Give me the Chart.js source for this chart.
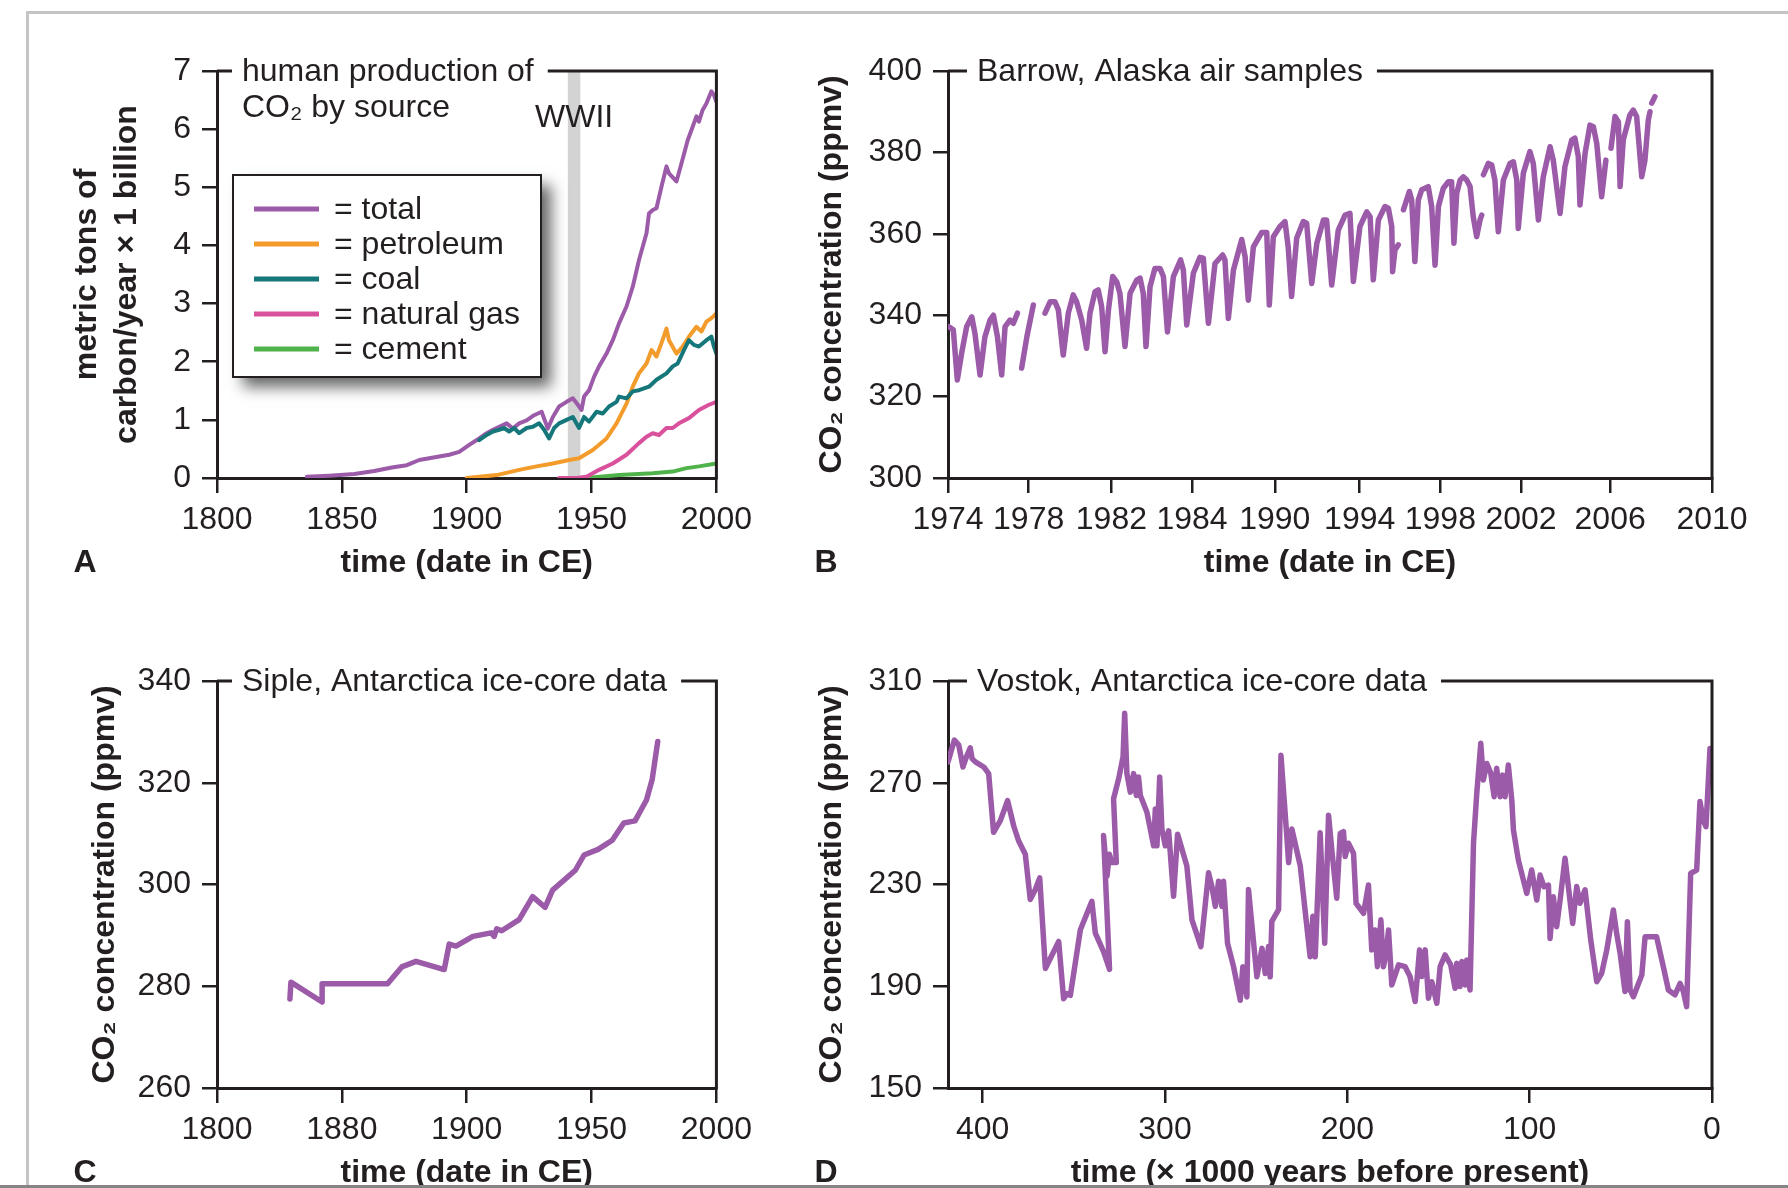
<!DOCTYPE html>
<html lang="en">
<head>
<meta charset="utf-8">
<title>CO2 records</title>
<script src="https://cdn.jsdelivr.net/npm/chart.js@4.4.1/dist/chart.umd.min.js"></script>
<style>
  html, body { margin: 0; padding: 0; background: #fff; }
  body { width: 1788px; height: 1188px; overflow: hidden; position: relative; }
  #frame { position: absolute; left: 26px; top: 11px; width: 1800px; height: 1300px;
           border-left: 3px solid #c4c4c4; border-top: 3px solid #c4c4c4; }
  #cut { position: absolute; left: 0; top: 1185px; width: 1788px; height: 3px; background: #858585; }
  canvas { position: absolute; }
</style>
</head>
<body>
<div id="frame"></div>
<canvas id="chartA" width="760" height="640" style="left:0;top:0"></canvas>
<canvas id="chartB" width="1048" height="640" style="left:740px;top:0"></canvas>
<canvas id="chartC" width="760" height="640" style="left:0;top:594px"></canvas>
<canvas id="chartD" width="1048" height="640" style="left:740px;top:594px"></canvas>
<div id="cut"></div>
<script>
// ---- A: human production of CO2 by source (billion tonnes C / yr)
const totalYears = [1836, 1845, 1855, 1863, 1870, 1876, 1881, 1885, 1889, 1893, 1897, 1901, 1905, 1908, 1910.5, 1913, 1916, 1918.5, 1921, 1924, 1927, 1930, 1932.5, 1934.5, 1937, 1940, 1942.5, 1944.5, 1946, 1947, 1949, 1951, 1953, 1956, 1958.5, 1961, 1964, 1966.5, 1969, 1972, 1973, 1974.5, 1976, 1978, 1980, 1981, 1984, 1986, 1988.5, 1990.5, 1992, 1993, 1994.5, 1996, 1998, 1999, 2000];
const totalValues = [0.02, 0.04, 0.07, 0.12, 0.18, 0.22, 0.31, 0.34, 0.37, 0.40, 0.45, 0.57, 0.68, 0.77, 0.83, 0.88, 0.94, 0.85, 0.94, 0.99, 1.08, 1.14, 0.85, 1.05, 1.23, 1.31, 1.37, 1.26, 1.17, 1.40, 1.51, 1.74, 1.92, 2.14, 2.37, 2.66, 2.95, 3.29, 3.75, 4.21, 4.55, 4.61, 4.64, 5.01, 5.36, 5.24, 5.10, 5.41, 5.81, 6.04, 6.22, 6.13, 6.33, 6.44, 6.65, 6.59, 6.47];
const petroleumYears = [1900, 1905, 1912, 1921, 1928, 1934.5, 1941, 1945, 1950.5, 1956, 1960, 1964, 1966.5, 1969, 1972, 1974, 1976, 1978, 1980, 1981, 1984, 1986.5, 1989, 1992, 1994, 1996, 1998, 2000];
const petroleumValues = [0, 0.02, 0.05, 0.14, 0.20, 0.25, 0.31, 0.34, 0.48, 0.68, 0.94, 1.28, 1.57, 1.80, 1.97, 2.20, 2.09, 2.32, 2.57, 2.37, 2.14, 2.26, 2.43, 2.60, 2.52, 2.69, 2.75, 2.83];
const coalYears = [1905, 1908, 1910.5, 1913, 1915, 1917, 1919, 1921, 1924, 1926.5, 1929, 1931, 1933, 1935, 1937, 1940, 1942.5, 1945, 1947, 1949, 1952, 1954.5, 1957, 1960, 1961, 1964, 1966.5, 1969, 1973, 1976, 1980, 1982.5, 1984.5, 1987, 1989, 1991, 1993, 1996, 1998, 1999, 2000];
const coalValues = [0.65, 0.74, 0.80, 0.83, 0.86, 0.80, 0.86, 0.77, 0.86, 0.88, 0.94, 0.83, 0.68, 0.86, 0.94, 1.00, 1.05, 0.86, 1.05, 0.97, 1.14, 1.11, 1.23, 1.31, 1.40, 1.37, 1.49, 1.51, 1.57, 1.69, 1.80, 1.92, 1.97, 2.20, 2.37, 2.29, 2.26, 2.37, 2.43, 2.26, 2.14];
const gasYears = [1937, 1944, 1948, 1953, 1958.5, 1964, 1969, 1972, 1974.5, 1977, 1980, 1982.5, 1985, 1989, 1993, 1997, 2000];
const gasValues = [0, 0, 0.02, 0.14, 0.25, 0.40, 0.60, 0.71, 0.77, 0.74, 0.86, 0.86, 0.94, 1.03, 1.17, 1.26, 1.31];
const cementYears = [1948, 1961, 1974.5, 1982.5, 1988, 1993, 2000];
const cementValues = [0, 0.05, 0.08, 0.11, 0.17, 0.20, 0.25];
const wwiiSpan = [1940.5, 1945.5];
const productionTicks = [1800, 1850, 1900, 1950, 2000];

// ---- B: Barrow, Alaska air samples (ppmv); null = break in the record
const barrowYears = [1974.02, 1974.25, 1974.44, 1974.64, 1974.88, 1975.12, 1975.27, 1975.51, 1975.74, 1975.98, 1976.14, 1976.33, 1976.53, 1976.69, 1976.92, 1977.08, 1977.27, 1977.37, 1977.47, 1977.72, 1978.02, 1978.3, 1978.57, 1978.81, 1979.04, 1979.2, 1979.43, 1979.67, 1979.9, 1980.06, 1980.3, 1980.53, 1980.69, 1980.93, 1981.08, 1981.24, 1981.4, 1981.56, 1981.76, 1981.95, 1982.1, 1982.34, 1982.58, 1982.89, 1983.05, 1983.2, 1983.33, 1983.52, 1983.75, 1983.99, 1984.15, 1984.34, 1984.62, 1984.96, 1985.09, 1985.25, 1985.56, 1985.87, 1986.03, 1986.27, 1986.58, 1986.94, 1987.05, 1987.21, 1987.45, 1987.84, 1988.0, 1988.15, 1988.39, 1988.78, 1989.02, 1989.14, 1989.33, 1989.64, 1989.88, 1990.03, 1990.19, 1990.43, 1990.74, 1990.9, 1991.14, 1991.38, 1991.69, 1991.84, 1992.08, 1992.39, 1992.71, 1992.94, 1993.1, 1993.41, 1993.73, 1993.89, 1994.04, 1994.28, 1994.59, 1994.75, 1994.91, 1994.95, 1995.06, 1995.22, 1995.34, 1995.46, 1995.74, 1995.85, 1996.0, 1996.16, 1996.32, 1996.48, 1996.63, 1996.79, 1996.95, 1997.11, 1997.34, 1997.58, 1997.73, 1997.84, 1997.97, 1998.13, 1998.28, 1998.44, 1998.6, 1998.75, 1998.91, 1999.07, 1999.15, 1999.19, 1999.23, 1999.46, 1999.62, 1999.77, 1999.93, 2000.17, 2000.48, 2000.64, 2000.8, 2000.87, 2001.11, 2001.42, 2001.58, 2001.82, 2002.05, 2002.37, 2002.52, 2002.84, 2003.07, 2003.39, 2003.54, 2003.7, 2003.78, 2004.02, 2004.25, 2004.41, 2004.57, 2004.8, 2005.0, 2005.12, 2005.24, 2005.43, 2005.59, 2005.67, 2005.82, 2006.13, 2006.29, 2006.45, 2006.69, 2006.84, 2007.0, 2007.08, 2007.12, 2007.16, 2007.31];
const barrowCO2 = [337.2, 336.4, 324.1, 330.6, 337.2, 339.6, 335.5, 325.3, 334.7, 338.8, 340.0, 334.7, 325.3, 337.2, 338.8, 338.0, 340.5, null, 327.0, 334.8, 342.5, null, 340.5, 343.3, 343.3, 341.3, 330.2, 340.5, 345.0, 343.3, 338.8, 331.9, 340.5, 345.8, 346.2, 342.1, 331.0, 341.3, 349.5, 348.2, 345.4, 332.3, 345.4, 348.6, 349.1, 345.4, 332.3, 347.0, 351.5, 351.5, 349.5, 335.9, 349.5, 353.6, 351.1, 337.6, 350.3, 354.2, 354.0, 338.0, 352.7, 354.8, 353.6, 339.2, 351.1, 358.6, 354.4, 343.7, 356.8, 360.3, 360.3, 342.5, 359.3, 361.8, 363.0, 356.8, 344.6, 358.9, 363.0, 362.6, 347.8, 357.7, 363.4, 363.4, 347.4, 360.9, 364.6, 365.0, 348.3, 361.8, 365.4, 364.2, 348.7, 363.4, 366.7, 366.3, 361.8, 350.7, 356.0, 357.3, null, 365.9, 370.4, 368.3, 353.2, 368.3, 370.8, 371.2, 371.6, 366.7, 352.3, 366.7, 371.2, 372.8, 372.8, 357.7, 369.9, 373.2, 374.0, 373.2, 371.6, 364.2, 359.3, 363.4, 364.6, null, 374.5, 377.3, 376.9, 373.2, 360.5, 373.2, 377.3, 377.7, 373.2, 361.3, 374.9, 380.2, 377.3, 363.4, 374.0, 381.4, 378.1, 365.0, 376.5, 383.0, 383.5, 379.0, 367.1, 379.8, 386.7, 386.3, 382.2, 369.1, 378.1, null, 381.0, 388.8, 387.5, 371.6, 383.1, 389.2, 390.4, 388.8, 374.0, 378.1, 388.0, 390.0, null, 392.1, 393.7];
const barrowTickPos = [1974, 1977.8, 1981.7, 1985.5, 1989.4, 1993.4, 1997.2, 2001.0, 2005.2, 2010];
const barrowTickLabels = ['1974', '1978', '1982', '1984', '1990', '1994', '1998', '2002', '2006', '2010'];

// ---- C: Siple, Antarctica ice-core data (ppmv)
const sipleYears = [1829.2, 1829.6, 1842.1, 1842.1, 1868.3, 1874.0, 1879.7, 1890.0, 1891.0, 1893.0, 1895.7, 1902.5, 1909.8, 1911.0, 1912.0, 1914.0, 1921.0, 1926.4, 1931.4, 1934.4, 1943.5, 1947.0, 1952.6, 1958.3, 1962.9, 1967.4, 1972.0, 1974.3, 1976.5];
const sipleCO2 = [277.5, 280.8, 276.9, 280.5, 280.5, 283.8, 284.9, 283.4, 283.3, 288.3, 287.9, 289.8, 290.5, 289.8, 291.3, 290.9, 293.1, 297.6, 295.5, 298.9, 302.8, 305.8, 306.9, 308.7, 312.1, 312.5, 316.6, 320.7, 328.1];
const sipleTickPos = [1800, 1850, 1900, 1950, 2000];
const sipleTickLabels = ['1800', '1880', '1900', '1950', '2000'];

// ---- D: Vostok, Antarctica ice-core data (ka before present, ppmv)
const vostokAge = [419, 415.5, 413.1, 410.8, 408.9, 406.8, 405.8, 404.0, 399.4, 396.7, 394.0, 390.3, 386.3, 383.0, 380.3, 376.6, 373.9, 371.1, 368.7, 365.6, 358.3, 355.6, 353.7, 351.9, 346.4, 340.1, 338.2, 333.7, 330.4, 333.7, 331.8, 330.5, 329.1, 326.7, 328.2, 325.4, 323.0, 322.1, 320.9, 319.0, 317.2, 315.7, 314.5, 313.5, 309.9, 306.2, 305.3, 304.4, 302.9, 301.7, 299.8, 298.0, 295.3, 293.1, 288.0, 285.2, 280.3, 276.1, 274.3, 272.4, 270.6, 268.8, 267.9, 265.7, 262.4, 258.7, 257.3, 255.1, 254.2, 249.6, 246.8, 245.0, 243.2, 242.3, 241.4, 237.7, 236.4, 233.2, 232.2, 230.4, 225.8, 220.4, 218.9, 217.6, 216.7, 214.9, 212.4, 210.3, 208.5, 205.8, 203.9, 202.1, 201.2, 199.4, 196.6, 195.2, 191.1, 188.4, 186.6, 184.8, 183.5, 181.6, 180.2, 178.7, 177.4, 175.6, 171.9, 168.3, 165.6, 162.8, 160.4, 159.2, 157.3, 155.5, 153.7, 150.9, 149.1, 146.4, 143.3, 140.9, 140.0, 138.2, 137.2, 135.4, 134.5, 132.7, 130.8, 129.0, 126.8, 125.4, 123.5, 121.3, 119.5, 118.1, 116.2, 114.8, 113.5, 111.7, 109.8, 108.9, 106.2, 101.6, 98.9, 96.1, 94.3, 92.1, 89.7, 88.8, 87.0, 85.2, 83.3, 80.6, 76.4, 74.2, 72.4, 69.6, 66.5, 63.2, 60.5, 57.7, 54.1, 52.3, 50.4, 47.7, 46.4, 44.9, 43.1, 38.5, 36.7, 30.4, 26.7, 23.9, 20.3, 17.5, 15.7, 13.9, 11.7, 8.4, 6.6, 4.8, 3.3, 1.1];
const vostokCO2 = [278.2, 286.8, 284.8, 276.2, 280.2, 283.7, 279.5, 278.2, 276.2, 273.6, 250.5, 255.1, 263.0, 253.1, 247.2, 241.9, 224.1, 228.0, 232.6, 197.0, 207.6, 185.1, 187.1, 186.4, 212.2, 223.4, 210.9, 203.6, 196.6, 249.3, 233.3, 241.9, 238.6, 238.6, 263.7, 271.6, 280.2, 297.3, 273.6, 266.3, 273.6, 265.0, 272.3, 265.0, 258.4, 245.2, 259.7, 245.2, 272.3, 251.8, 245.2, 251.1, 225.4, 249.8, 237.3, 216.1, 205.6, 234.6, 229.3, 221.4, 231.3, 221.4, 231.3, 206.9, 197.7, 184.5, 197.7, 185.8, 228.0, 193.7, 204.9, 195.0, 205.6, 193.7, 215.5, 220.1, 280.8, 249.1, 238.6, 251.8, 237.3, 201.6, 217.5, 201.6, 218.1, 250.3, 206.9, 257.2, 243.6, 224.6, 250.1, 250.8, 241.0, 246.2, 242.3, 222.6, 218.7, 229.8, 204.3, 212.1, 197.7, 216.1, 197.7, 202.9, 212.1, 190.5, 198.4, 197.7, 193.8, 184.0, 204.3, 193.8, 204.3, 185.3, 191.8, 183.3, 197.7, 202.3, 198.4, 189.2, 199.0, 189.9, 199.7, 190.5, 200.3, 188.5, 246.2, 265.9, 285.5, 271.1, 277.6, 273.7, 264.5, 275.7, 264.5, 273.0, 264.5, 277.0, 263.2, 251.4, 239.6, 226.5, 235.7, 223.9, 233.7, 229.1, 229.8, 208.8, 225.2, 213.4, 223.9, 240.3, 214.7, 229.2, 222.6, 227.9, 208.2, 191.8, 195.1, 204.3, 220.0, 210.8, 203.0, 187.9, 215.4, 188.5, 185.9, 194.4, 209.5, 209.5, 197.7, 188.5, 186.6, 191.1, 187.9, 182.0, 234.4, 235.7, 262.6, 255.4, 252.7, 283.5];
const vostokTickPos = [400, 300, 200, 100, 0];

const FONT = '"Liberation Sans", Arial, Helvetica, sans-serif';
const INK = '#231f20';
const PURPLE = '#9b5ba8';

Chart.defaults.font.family = FONT;
Chart.defaults.font.size = 32;
Chart.defaults.color = INK;

function pts(xs, ys) {
  return xs.map((x, i) => ({ x: x, y: ys[i] }));
}

function series(label, xs, ys, color, width, order) {
  return {
    label: label,
    data: pts(xs, ys),
    borderColor: color,
    backgroundColor: color,
    borderWidth: width,
    order: order,
    pointRadius: 0,
    tension: 0,
    spanGaps: false,
    borderJoinStyle: 'round',
    borderCapStyle: 'round'
  };
}

// frame, inset title, WWII band, legend box and panel letter
const panelDecor = {
  id: 'panelDecor',
  beforeDatasetsDraw(chart, args, o) {
    if (!o.band) return;
    const { ctx, chartArea: a, scales: { x } } = chart;
    const x0 = x.getPixelForValue(o.band[0]);
    const x1 = x.getPixelForValue(o.band[1]);
    ctx.save();
    ctx.fillStyle = '#d3d3d3';
    ctx.fillRect(x0, a.top, x1 - x0, a.bottom - a.top);
    ctx.restore();
  },
  afterDraw(chart, args, o) {
    const { ctx, chartArea: a, scales: { x } } = chart;
    ctx.save();
    ctx.strokeStyle = INK;
    ctx.lineWidth = 3;
    ctx.beginPath();
    ctx.moveTo(a.left, a.top);
    ctx.lineTo(a.right, a.top);
    ctx.lineTo(a.right, a.bottom + 1.5);
    ctx.stroke();

    ctx.font = '32px ' + FONT;
    ctx.textBaseline = 'alphabetic';
    o.title.forEach((line, i) => {
      const tx = a.left + o.titleDx;
      const ty = a.top + 10 + i * 36;
      if (i === 0) {
        const w = ctx.measureText(line).width;
        ctx.fillStyle = '#fff';
        ctx.fillRect(tx - 10, a.top - 4, w + 24, 8);
      }
      ctx.fillStyle = INK;
      ctx.fillText(line, tx, ty);
    });

    if (o.band) {
      ctx.textAlign = 'center';
      ctx.fillText('WWII', (x.getPixelForValue(o.band[0]) + x.getPixelForValue(o.band[1])) / 2, a.top + 56);
    }

    if (o.legend) {
      const bx = a.left + 16, by = a.top + 104, bw = 308, bh = 202;
      ctx.save();
      ctx.shadowColor = 'rgba(0,0,0,0.6)';
      ctx.shadowBlur = 14;
      ctx.shadowOffsetX = 10;
      ctx.shadowOffsetY = 10;
      ctx.fillStyle = '#fff';
      ctx.fillRect(bx, by, bw, bh);
      ctx.restore();
      ctx.lineWidth = 2;
      ctx.strokeStyle = INK;
      ctx.strokeRect(bx, by, bw, bh);
      ctx.textAlign = 'left';
      ctx.textBaseline = 'middle';
      chart.data.datasets.forEach((ds, i) => {
        const ry = by + 34 + i * 35;
        ctx.strokeStyle = ds.borderColor;
        ctx.lineWidth = 5;
        ctx.beginPath();
        ctx.moveTo(bx + 21, ry);
        ctx.lineTo(bx + 86, ry);
        ctx.stroke();
        ctx.fillStyle = INK;
        ctx.fillText('= ' + ds.label, bx + 101, ry + 1);
      });
    }

    ctx.font = 'bold 32px ' + FONT;
    ctx.textAlign = 'center';
    ctx.textBaseline = 'middle';
    ctx.fillStyle = INK;
    ctx.fillText(o.letter, o.letterX, a.bottom + 85);
    ctx.restore();
  }
};

function axis(fit) {
  return {
    type: 'linear',
    grid: { drawOnChartArea: false, drawTicks: true, tickLength: 15, color: INK, lineWidth: 2.5 },
    border: { display: true, color: INK, width: 3 },
    ticks: { color: INK, font: { size: 32 }, autoSkip: false, maxRotation: 0, minRotation: 0, callback: v => String(v) },
    afterFit: fit
  };
}

function buildOptions(p) {
  const x = axis(s => { s.height = 116; });
  x.min = p.xMin;
  x.max = p.xMax;
  x.reverse = !!p.xReverse;
  x.ticks.padding = 8;
  x.afterBuildTicks = s => { s.ticks = p.xTickPos.map(v => ({ value: v })); };
  if (p.xTickLabels) x.ticks.callback = (v, i) => p.xTickLabels[i];
  x.title = { display: true, text: p.xTitle, color: INK,
    font: { size: 32, weight: 'bold', lineHeight: 1.2 }, padding: { top: 0, bottom: 12 } };

  const y = axis(s => { s.width = p.yWidth; });
  y.min = p.yMin;
  y.max = p.yMax;
  y.ticks.stepSize = p.yStep;
  y.ticks.padding = 11;
  y.title = { display: true, text: p.yTitle, color: INK,
    font: { size: 32, weight: 'bold', lineHeight: p.yLineHeight || 1.2 }, padding: { top: p.yTitlePad, bottom: 0 } };

  return {
    responsive: false,
    animation: false,
    devicePixelRatio: 1,
    layout: { autoPadding: false, padding: p.padding },
    plugins: {
      legend: { display: false },
      tooltip: { enabled: false },
      panelDecor: p.decor
    },
    scales: { x: x, y: y }
  };
}

new Chart(document.getElementById('chartA'), {
  type: 'line',
  data: { datasets: [
    series('total', totalYears, totalValues, '#9b5ba8', 4, 4),
    series('petroleum', petroleumYears, petroleumValues, '#f39c2c', 4, 1),
    series('coal', coalYears, coalValues, '#16777b', 4, 0),
    series('natural gas', gasYears, gasValues, '#d9509c', 4, 2),
    series('cement', cementYears, cementValues, '#4fb24a', 4, 3)
  ] },
  options: buildOptions({
    xMin: 1800, xMax: 2000, xTickPos: productionTicks, xTitle: 'time (date in CE)',
    yMin: 0, yMax: 7, yStep: 1, yWidth: 217, yTitlePad: 67, yLineHeight: 1.25,
    yTitle: ['metric tons of', 'carbon/year \u00d7 1 billion'],
    padding: { left: 0, top: 71, right: 43, bottom: 46 },
    decor: { title: ['human production of', 'CO\u2082 by source'], titleDx: 25, letter: 'A', letterX: 85, band: wwiiSpan, legend: true }
  }),
  plugins: [panelDecor]
});

new Chart(document.getElementById('chartB'), {
  type: 'line',
  data: { datasets: [series('Barrow', barrowYears, barrowCO2, PURPLE, 5.5, 0)] },
  options: buildOptions({
    xMin: 1974, xMax: 2010, xTickPos: barrowTickPos, xTickLabels: barrowTickLabels, xTitle: 'time (date in CE)',
    yMin: 300, yMax: 400, yStep: 20, yWidth: 208, yTitlePad: 73,
    yTitle: 'CO\u2082 concentration (ppmv)',
    padding: { left: 0, top: 71, right: 76, bottom: 46 },
    decor: { title: ['Barrow, Alaska air samples'], titleDx: 29, letter: 'B', letterX: 86 }
  }),
  plugins: [panelDecor]
});

new Chart(document.getElementById('chartC'), {
  type: 'line',
  data: { datasets: [series('Siple', sipleYears, sipleCO2, PURPLE, 5.5, 0)] },
  options: buildOptions({
    xMin: 1800, xMax: 2000, xTickPos: sipleTickPos, xTickLabels: sipleTickLabels, xTitle: 'time (date in CE)',
    yMin: 260, yMax: 340, yStep: 20, yWidth: 217, yTitlePad: 86,
    yTitle: 'CO\u2082 concentration (ppmv)',
    padding: { left: 0, top: 87, right: 43, bottom: 30 },
    decor: { title: ['Siple, Antarctica ice-core data'], titleDx: 25, letter: 'C', letterX: 85 }
  }),
  plugins: [panelDecor]
});

new Chart(document.getElementById('chartD'), {
  type: 'line',
  data: { datasets: [series('Vostok', vostokAge, vostokCO2, PURPLE, 5.5, 0)] },
  options: buildOptions({
    xMin: 0, xMax: 419, xReverse: true, xTickPos: vostokTickPos, xTitle: 'time (\u00d7 1000 years before present)',
    yMin: 150, yMax: 310, yStep: 40, yWidth: 208, yTitlePad: 73,
    yTitle: 'CO\u2082 concentration (ppmv)',
    padding: { left: 0, top: 87, right: 76, bottom: 30 },
    decor: { title: ['Vostok, Antarctica ice-core data'], titleDx: 29, letter: 'D', letterX: 86 }
  }),
  plugins: [panelDecor]
});
</script>
</body>
</html>
